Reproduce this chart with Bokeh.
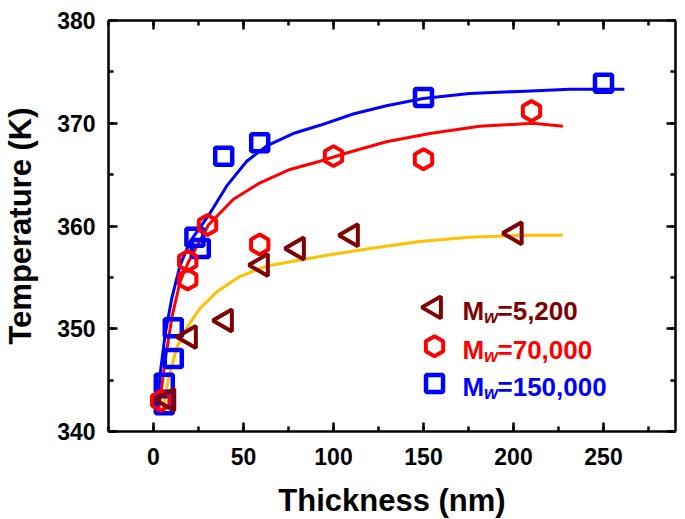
import numpy as np
from bokeh.plotting import figure
from bokeh.models import (LinearAxis, SingleIntervalTicker, Range1d, Label, CustomLabelingPolicy)
from bokeh.embed import file_html
from bokeh.resources import INLINE

# ---- data ----
tri_x = [8, 20, 40, 60, 80, 110, 201]
tri_y = [343.1, 349.2, 350.8, 356.2, 357.8, 359.1, 359.3]

hex_x = [4, 19, 19, 30, 59, 100, 150, 210]
hex_y = [343.0, 354.8, 356.6, 360.1, 358.2, 366.8, 366.5, 371.2]

sq_x = [6, 6, 11, 11, 23, 26, 39, 59, 150, 250]
sq_y = [342.6, 344.7, 347.1, 350.1, 358.9, 357.8, 366.8, 368.1, 372.5, 373.9]

# fitted curves
fit_tri_x = [4.7, 8.5, 13.0, 18.5, 25.9, 35.2, 48.1, 62.9, 81.4, 98, 120.2, 147.9, 175.6, 203.4, 227.4]
fit_tri_y = [341.6, 345.3, 348.2, 350.1, 352.0, 353.6, 355.1, 356.1, 356.7, 357.2, 357.8, 358.5, 358.9, 359.1, 359.1]

fit_hex_x = [2.8, 6.5, 10.2, 14.8, 19.4, 30.5, 44.4, 59.2, 75.8, 92.5, 107.3, 129.4, 153.5, 181.2, 210.8, 227.4]
fit_hex_y = [342.0, 346.9, 351.1, 354.6, 356.5, 360.1, 362.6, 364.2, 365.5, 366.3, 367.1, 368.2, 369.0, 369.7, 370.0, 369.7]

fit_sq_x = [1.9, 3.7, 6.5, 10.2, 14.8, 20.4, 30.5, 40.7, 51.8, 62.9, 77.6, 92.5, 110.9, 129.4, 149.8, 175.6, 203.4, 231.1, 261.6]
fit_sq_y = [342.1, 345.6, 349.5, 353.0, 356.2, 358.5, 361.0, 363.9, 366.3, 367.8, 369.0, 369.8, 370.9, 371.7, 372.4, 372.9, 373.1, 373.3, 373.3]

series_labels = ["=5,200", "=70,000", "=150,000"]
x_title = "Thickness (nm)"
y_title = "Temperature (K)"

# ---- styles / layout ----
DARKRED = "#7F0000"
RED = "#FF0000"
BLUE = "#0000FF"
GOLD = "#FFC000"
FONT = "Liberation Sans"
X0, X1, Y0, Y1 = -25, 290, 340, 380
FRAME_W, FRAME_H = 567, 411

p = figure(frame_width=FRAME_W, frame_height=FRAME_H, output_backend="svg", toolbar_location=None,
           x_range=Range1d(X0, X1), y_range=Range1d(Y0, Y1),
           min_border_left=100, min_border_top=13, min_border_right=8, min_border_bottom=70,
           x_axis_type=None, y_axis_type=None)
p.xgrid.visible = False
p.ygrid.visible = False
p.outline_line_color = None
p.background_fill_color = "white"
p.border_fill_color = "white"

no_labels = CustomLabelingPolicy(code="""
    const all = [...indices]
    for (const i of all) indices.unset(i)
    return indices
""")

def make_axis(interval, show_labels):
    ax = LinearAxis(ticker=SingleIntervalTicker(interval=interval, num_minor_ticks=2))
    ax.axis_line_width = 2.5
    ax.major_tick_line_width = 2.5
    ax.minor_tick_line_width = 2.5
    ax.major_tick_in = 9
    ax.major_tick_out = 0
    ax.minor_tick_in = 5
    ax.minor_tick_out = 0
    ax.major_label_text_font = FONT
    ax.major_label_text_font_style = "bold"
    ax.major_label_text_font_size = "23px"
    ax.major_label_text_color = "black"
    ax.axis_label_text_font = FONT
    ax.axis_label_text_font_style = "bold"
    ax.axis_label_text_font_size = "31px"
    ax.axis_label_text_color = "black"
    if not show_labels:
        ax.major_label_policy = no_labels
        ax.major_label_standoff = 0
    return ax

xb = make_axis(50, True)
xb.axis_label = x_title
xb.major_label_standoff = 16
xb.axis_label_standoff = 15
p.add_layout(xb, "below")

yl = make_axis(10, True)
yl.axis_label = y_title
yl.major_label_standoff = 13
yl.axis_label_standoff = 16
p.add_layout(yl, "left")

p.add_layout(make_axis(50, False), "above")
p.add_layout(make_axis(10, False), "right")

# fitted curves
p.line(fit_tri_x, fit_tri_y, line_color=GOLD, line_width=3)
p.line(fit_hex_x, fit_hex_y, line_color=RED, line_width=3)
p.line(fit_sq_x, fit_sq_y, line_color=BLUE, line_width=3)

# markers
SQ = dict(marker="square", size=17, fill_alpha=0, line_color=BLUE, line_width=4.5)
HX = dict(marker="hex", size=20, angle=np.pi / 2, fill_alpha=0, line_color=RED, line_width=4)
TR = dict(marker="triangle", size=22, angle=np.pi / 2, fill_alpha=0, line_color=DARKRED, line_width=4)
p.scatter(sq_x, sq_y, **SQ)
p.scatter(hex_x, hex_y, **HX)
p.scatter(tri_x, tri_y, **TR)

# legend (keys placed by fractions of the frame, texts in screen px)
KEY_FX = 0.575
ROW_FY = [0.302, 0.2075, 0.117]
key_x = X0 + KEY_FX * (X1 - X0)
for style, fy, col, lab in zip([TR, HX, SQ], ROW_FY, [DARKRED, RED, BLUE], series_labels):
    p.scatter([key_x], [Y0 + fy * (Y1 - Y0)], **style)
    tx = 462 - 108
    base = fy * FRAME_H - 4
    p.add_layout(Label(x=tx, y=base, x_units="screen", y_units="screen", text="M",
                       text_font=FONT, text_font_style="bold", text_font_size="26px",
                       text_color=col, text_baseline="alphabetic"))
    p.add_layout(Label(x=tx + 21.5, y=base - 6, x_units="screen", y_units="screen", text="w",
                       text_font=FONT, text_font_style="bold italic", text_font_size="18px",
                       text_color=col, text_baseline="alphabetic"))
    p.add_layout(Label(x=tx + 35, y=base, x_units="screen", y_units="screen", text=lab,
                       text_font=FONT, text_font_style="bold", text_font_size="26px",
                       text_color=col, text_baseline="alphabetic"))

open("out.html", "w").write(file_html(p, INLINE))
